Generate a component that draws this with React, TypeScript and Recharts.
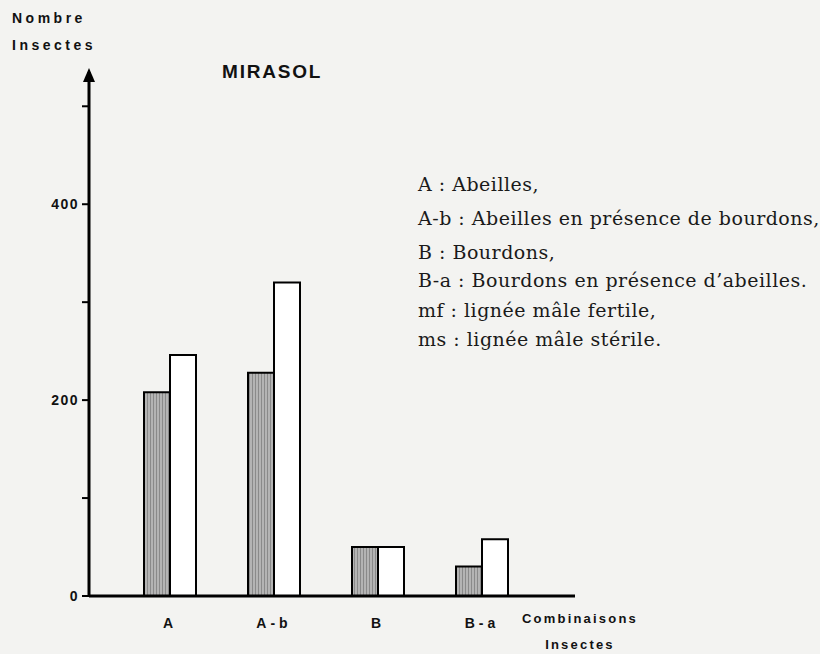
import { Bar, BarChart, XAxis, YAxis } from "recharts";

const categories = ["A", "A-b", "B", "B-a"];
const mf = [208, 228, 50, 30];
const ms = [246, 320, 50, 58];
const yTicks = [0, 100, 200, 300, 400, 500];
const yLabelled = [0, 200, 400];

const legendLines = [
    "A : Abeilles,",
    "A-b : Abeilles en présence de bourdons,",
    "B : Bourdons,",
    "B-a : Bourdons en présence d\u2019abeilles.",
    "mf : lignée mâle fertile,",
    "ms : lignée mâle stérile.",
];

const data = categories.map((c, i) => ({ name: c, mf: mf[i], ms: ms[i] }));

const SANS = "'Liberation Sans', Arial, sans-serif";
const SERIF = "'DejaVu Serif', serif";

const legendTops = [173, 207, 241, 269, 299, 328];

const ArrowHead = (props: any) => {
    const vb = props.viewBox || {};
    const x = vb.x + vb.width;
    const y = vb.y;
    return <polygon points={`${x},${y - 4} ${x - 6},${y + 10} ${x + 6},${y + 10}`} fill="#000" />;
};

const App: React.FC = () => {
    return (
        <div style={{ position: "absolute", left: 0, top: 0, width: 820, height: 654, background: "#f3f3f1", overflow: "hidden" }}>
            <BarChart
                width={820}
                height={654}
                data={data}
                margin={{ top: 72, right: 245, bottom: 28, left: 0 }}
                barGap={0}
                barSize={26}
            >
                <defs>
                    <pattern id="stripes" width="3" height="4" patternUnits="userSpaceOnUse">
                        <rect width="3" height="4" fill="#b4b4b4" />
                        <rect width="1" height="4" fill="#8a8a8a" />
                    </pattern>
                </defs>
                <XAxis
                    dataKey="name"
                    axisLine={{ stroke: "#000", strokeWidth: 3 }}
                    tickLine={false}
                    tickMargin={16}
                    height={30}
                    padding={{ left: 29, right: 41 }}
                    tick={{ fill: "#111", fontFamily: SANS, fontWeight: 700, fontSize: 14, letterSpacing: 4 }}
                />
                <YAxis
                    width={89}
                    domain={[0, 535]}
                    ticks={yTicks}
                    interval={0}
                    tickSize={7}
                    tickMargin={3}
                    axisLine={{ stroke: "#000", strokeWidth: 3 }}
                    tickLine={{ stroke: "#000", strokeWidth: 2 }}
                    tickFormatter={(v: number) => (yLabelled.includes(v) ? String(v) : "")}
                    tick={{ fill: "#111", fontFamily: SANS, fontWeight: 700, fontSize: 14, letterSpacing: 1.5 }}
                    label={<ArrowHead />}
                />
                <Bar dataKey="mf" fill="url(#stripes)" stroke="#000" strokeWidth={2} isAnimationActive={false} />
                <Bar dataKey="ms" fill="#ffffff" stroke="#000" strokeWidth={2} isAnimationActive={false} />
            </BarChart>

            <div style={{ position: "absolute", left: 12, top: 5, fontFamily: SANS, fontWeight: 700, fontSize: 14, letterSpacing: 3.5, color: "#111", lineHeight: "27px" }}>
                Nombre<br />Insectes
            </div>
            <div style={{ position: "absolute", left: 222, top: 61, fontFamily: SANS, fontWeight: 700, fontSize: 19, letterSpacing: 1.8, color: "#111" }}>
                MIRASOL
            </div>
            <div style={{ position: "absolute", left: 522, top: 606, fontFamily: SANS, fontWeight: 700, fontSize: 13, letterSpacing: 2.2, color: "#111", lineHeight: "26px", textAlign: "center" }}>
                Combinaisons<br />Insectes
            </div>
            {legendLines.map((t, i) => (
                <div key={i} style={{ position: "absolute", left: 418, top: legendTops[i], fontFamily: SERIF, fontSize: 19, letterSpacing: 0.5, color: "#1a1a1a", whiteSpace: "nowrap" }}>
                    {t}
                </div>
            ))}
        </div>
    );
};

export default App;
